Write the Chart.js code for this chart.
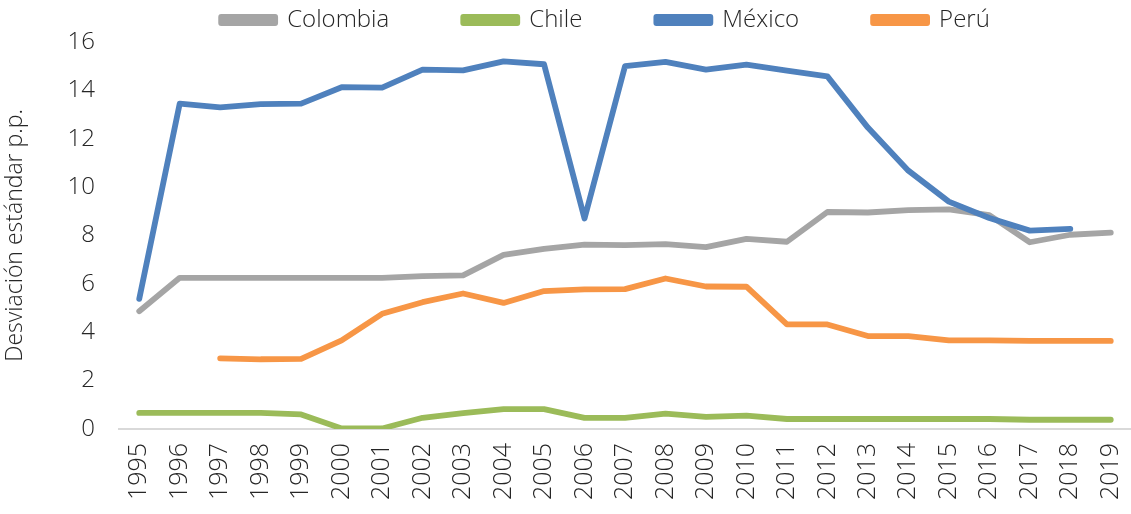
<!DOCTYPE html>
<html>
<head>
<meta charset="utf-8">
<script src="https://cdn.jsdelivr.net/npm/chart.js@4.4.0/dist/chart.umd.min.js"></script>
<style>
  body { margin: 0; background: #fff; }
</style>
</head>
<body>
<canvas id="grafico" width="1131" height="514"></canvas>
<script>
// Datos
const anios = ['1995', '1996', '1997', '1998', '1999', '2000', '2001', '2002', '2003', '2004', '2005', '2006',
    '2007', '2008', '2009', '2010', '2011', '2012', '2013', '2014', '2015', '2016', '2017', '2018', '2019'];

const colombia = [4.87, 6.25, 6.25, 6.25, 6.25, 6.25, 6.25, 6.32, 6.35, 7.2, 7.45, 7.62,
    7.6, 7.64, 7.52, 7.86, 7.74, 8.97, 8.95, 9.05, 9.08, 8.84, 7.72, 8.03, 8.12];
const chile = [0.66, 0.66, 0.66, 0.66, 0.6, 0.02, 0.02, 0.46, 0.65, 0.82, 0.82, 0.46,
    0.46, 0.63, 0.5, 0.55, 0.41, 0.41, 0.41, 0.41, 0.41, 0.41, 0.38, 0.38, 0.38];
const mexico = [5.38, 13.45, 13.3, 13.43, 13.45, 14.13, 14.11, 14.86, 14.83, 15.2, 15.08, 8.7,
    15.0, 15.18, 14.86, 15.06, 14.82, 14.58, 12.46, 10.68, 9.4, 8.72, 8.2, 8.27, null];
const peru = [null, null, 2.92, 2.88, 2.9, 3.66, 4.76, 5.24, 5.6, 5.21, 5.7, 5.77,
    5.78, 6.22, 5.89, 5.88, 4.32, 4.32, 3.84, 3.84, 3.66, 3.66, 3.64, 3.64, 3.64];

const ticksY = [0, 2, 4, 6, 8, 10, 12, 14, 16];

const police = "'Open Sans', 'Lato', sans-serif";
const couleurTexte = '#262626';
const paddingLegende = 74;

function serie(nom, valeurs, couleur, ordre) {
    return {
        label: nom,
        data: valeurs,
        borderColor: couleur,
        backgroundColor: couleur,
        borderWidth: 5.8,
        borderCapStyle: 'round',
        borderJoinStyle: 'round',
        pointRadius: 0,
        pointHoverRadius: 0,
        fill: false,
        tension: 0,
        spanGaps: false,
        order: ordre
    };
}

// la légende : hauteur fixe et texte remonté malgré le grand padding horizontal
const placementLegende = {
    id: 'placementLegende',
    beforeInit(chart) {
        const fitOrig = chart.legend.fit;
        chart.legend.fit = function () {
            fitOrig.call(this);
            this.height = 42;
        };
    },
    beforeDraw(chart) {
        chart.legend.top = 8 - paddingLegende;
        chart.legend.left = 40;
        chart.legend.right = chart.width + 40;
    }
};

const ctx = document.getElementById('grafico').getContext('2d');
const monGraphique = new Chart(ctx, {
    type: 'line',
    data: {
        labels: anios,
        datasets: [
            serie('Colombia', colombia, '#a5a5a5', 4),
            serie('Chile', chile, '#9bbb59', 3),
            serie('México', mexico, '#4f81bd', 2),
            serie('Perú', peru, '#f79646', 1)
        ]
    },
    options: {
        responsive: false,
        animation: false,
        layout: {
            padding: { left: 0, right: 0, top: 0, bottom: 0 }
        },
        plugins: {
            tooltip: { enabled: false },
            legend: {
                position: 'top',
                labels: {
                    boxWidth: 54,
                    boxHeight: 6,
                    padding: paddingLegende,
                    color: couleurTexte,
                    font: { family: police, size: 24, weight: 300 },
                    sort: (a, b) => a.datasetIndex - b.datasetIndex
                }
            }
        },
        scales: {
            x: {
                offset: true,
                afterFit: (axe) => {
                    axe.paddingLeft = 0;
                    axe.paddingRight = 0;
                },
                grid: { display: false, drawTicks: false },
                border: { display: true, color: '#d9d9d9', width: 2 },
                ticks: {
                    autoSkip: false,
                    maxRotation: 90,
                    minRotation: 90,
                    padding: 14,
                    color: couleurTexte,
                    font: { family: police, size: 25, weight: 300 }
                }
            },
            y: {
                min: 0,
                max: 16,
                afterBuildTicks: (axe) => {
                    axe.ticks = ticksY.map(v => ({ value: v }));
                },
                grid: { display: false, drawTicks: false },
                border: { display: false },
                ticks: {
                    padding: 24,
                    color: couleurTexte,
                    font: { family: police, size: 24, weight: 300 }
                },
                title: {
                    display: true,
                    text: 'Desviación estándar p.p.',
                    color: couleurTexte,
                    font: { family: police, size: 23, weight: 300 },
                    padding: { top: 2, bottom: 14 }
                }
            }
        }
    },
    plugins: [placementLegende]
});
</script>
</body>
</html>
